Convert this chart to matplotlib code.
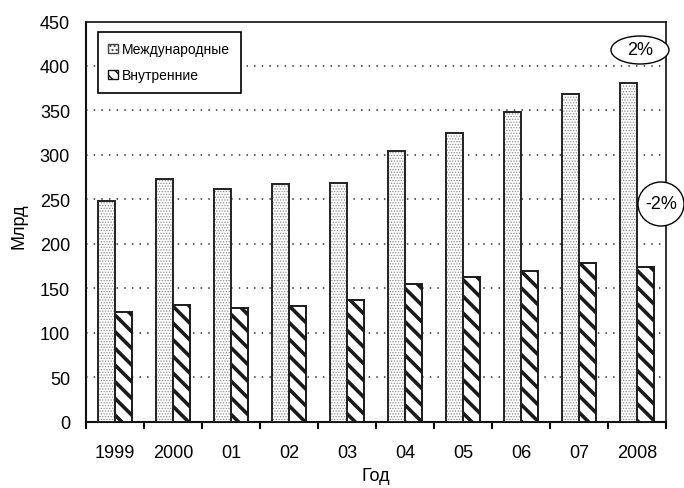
import matplotlib
matplotlib.use("Agg")
import matplotlib.pyplot as plt
from matplotlib.patches import Patch, Ellipse
from matplotlib import font_manager
import numpy as np

# Data: passengers, billions
years = ["1999", "2000", "01", "02", "03", "04", "05", "06", "07", "2008"]
international = [248, 273, 262, 267, 268, 304, 325, 348, 369, 381]
domestic = [123, 131, 128, 130, 137, 155, 163, 169, 178, 174]
series_names = ["Международные", "Внутренние"]
y_ticks = [0, 50, 100, 150, 200, 250, 300, 350, 400, 450]
change_labels = ["2%", "-2%"]

installed = {f.name for f in font_manager.fontManager.ttflist}
narrow = "Liberation Sans Narrow" in installed
plt.rcParams["font.family"] = (["Liberation Sans Narrow"] if narrow else []) + \
    ["Liberation Sans", "DejaVu Sans"]
fs_tick = 15 if narrow else 13
fs_leg = 11.8 if narrow else 10
fs_lab = 15 if narrow else 13

W, H = 684, 489
fig = plt.figure(figsize=(W / 100, H / 100), dpi=100)
ax = fig.add_axes([86 / W, 1 - 422.5 / H, 580 / W, 400 / H])

x = np.arange(len(years))
bw = 0.285

# International: white bars with a grey dotted fill and a dark outline
with plt.rc_context({"hatch.linewidth": 0.6}):
    dots = ax.bar(x - bw / 2, international, bw, facecolor="white",
                  edgecolor="#8a8a8a", hatch="......", linewidth=0, zorder=3)
ax.bar(x - bw / 2, international, bw, fill=False, edgecolor="#222222",
       linewidth=1.4, zorder=4)

# Domestic: heavy diagonal stripes
with plt.rc_context({"hatch.linewidth": 2.6}):
    stripes = ax.bar(x + bw / 2, domestic, bw, facecolor="white",
                     edgecolor="#1a1a1a", hatch="\\\\", linewidth=1.4, zorder=3)

ax.set_xlim(-0.5, len(years) - 0.5)
ax.set_ylim(0, 450)

# Dotted horizontal grid
for v in y_ticks[1:-1]:
    ax.axhline(v, color="#333333", linewidth=1.1,
               linestyle=(0, (1.0, 4.0)), zorder=1)

ax.set_yticks(y_ticks)
ax.set_yticklabels([str(v) for v in y_ticks])
ax.tick_params(axis="y", length=0, pad=11.5, labelsize=fs_tick)

ax.set_xticks(np.arange(-0.5, len(years), 1.0))
ax.set_xticklabels([])
ax.tick_params(axis="x", which="major", direction="out", length=5,
               width=1.5, color="black")
ax.set_xticks(x, minor=True)
ax.set_xticklabels(years, minor=True)
ax.tick_params(axis="x", which="minor", length=0, pad=16, labelsize=fs_tick)

for side in ["left", "bottom"]:
    ax.spines[side].set_linewidth(1.5)
    ax.spines[side].set_color("#111111")
for side in ["top", "right"]:
    ax.spines[side].set_linewidth(1.2)
    ax.spines[side].set_color("#111111")

fig.text(19 / W, 1 - 226 / H, "Млрд", rotation=90, ha="center",
         va="center", fontsize=fs_lab)
fig.text(376 / W, 1 - 477 / H, "Год", ha="center", va="center",
         fontsize=fs_lab)

# Legend
with plt.rc_context({"hatch.linewidth": 1.6}):
    h1 = Patch(facecolor="white", edgecolor="#444444", hatch="....",
               linewidth=1.0)
    h2 = Patch(facecolor="white", edgecolor="#111111", hatch="\\\\\\",
               linewidth=1.0)
leg = ax.legend([h1, h2], series_names, loc="upper left",
                bbox_to_anchor=(98 / W, 1 - 33 / H),
                bbox_transform=fig.transFigure, fontsize=fs_leg,
                handlelength=0.7, handleheight=0.7, handletextpad=0.3,
                labelspacing=0.85, borderpad=0.75, borderaxespad=0,
                fancybox=False, framealpha=1, edgecolor="black")
leg.get_frame().set_linewidth(1.2)
leg.set_zorder(10)

# Change callouts
callouts = [((640, 51), 58, 28, change_labels[0]),
            ((661, 205), 46, 44, change_labels[1])]
for (cx, cy), ew, eh, txt in callouts:
    e = Ellipse((cx / W, 1 - cy / H), ew / W, eh / H,
                transform=fig.transFigure, facecolor="white",
                edgecolor="black", linewidth=1.0, zorder=20)
    fig.add_artist(e)
    fig.text(cx / W, 1 - cy / H, txt, ha="center", va="center",
             fontsize=fs_tick, zorder=21)

fig.savefig("out.png", dpi=100)
